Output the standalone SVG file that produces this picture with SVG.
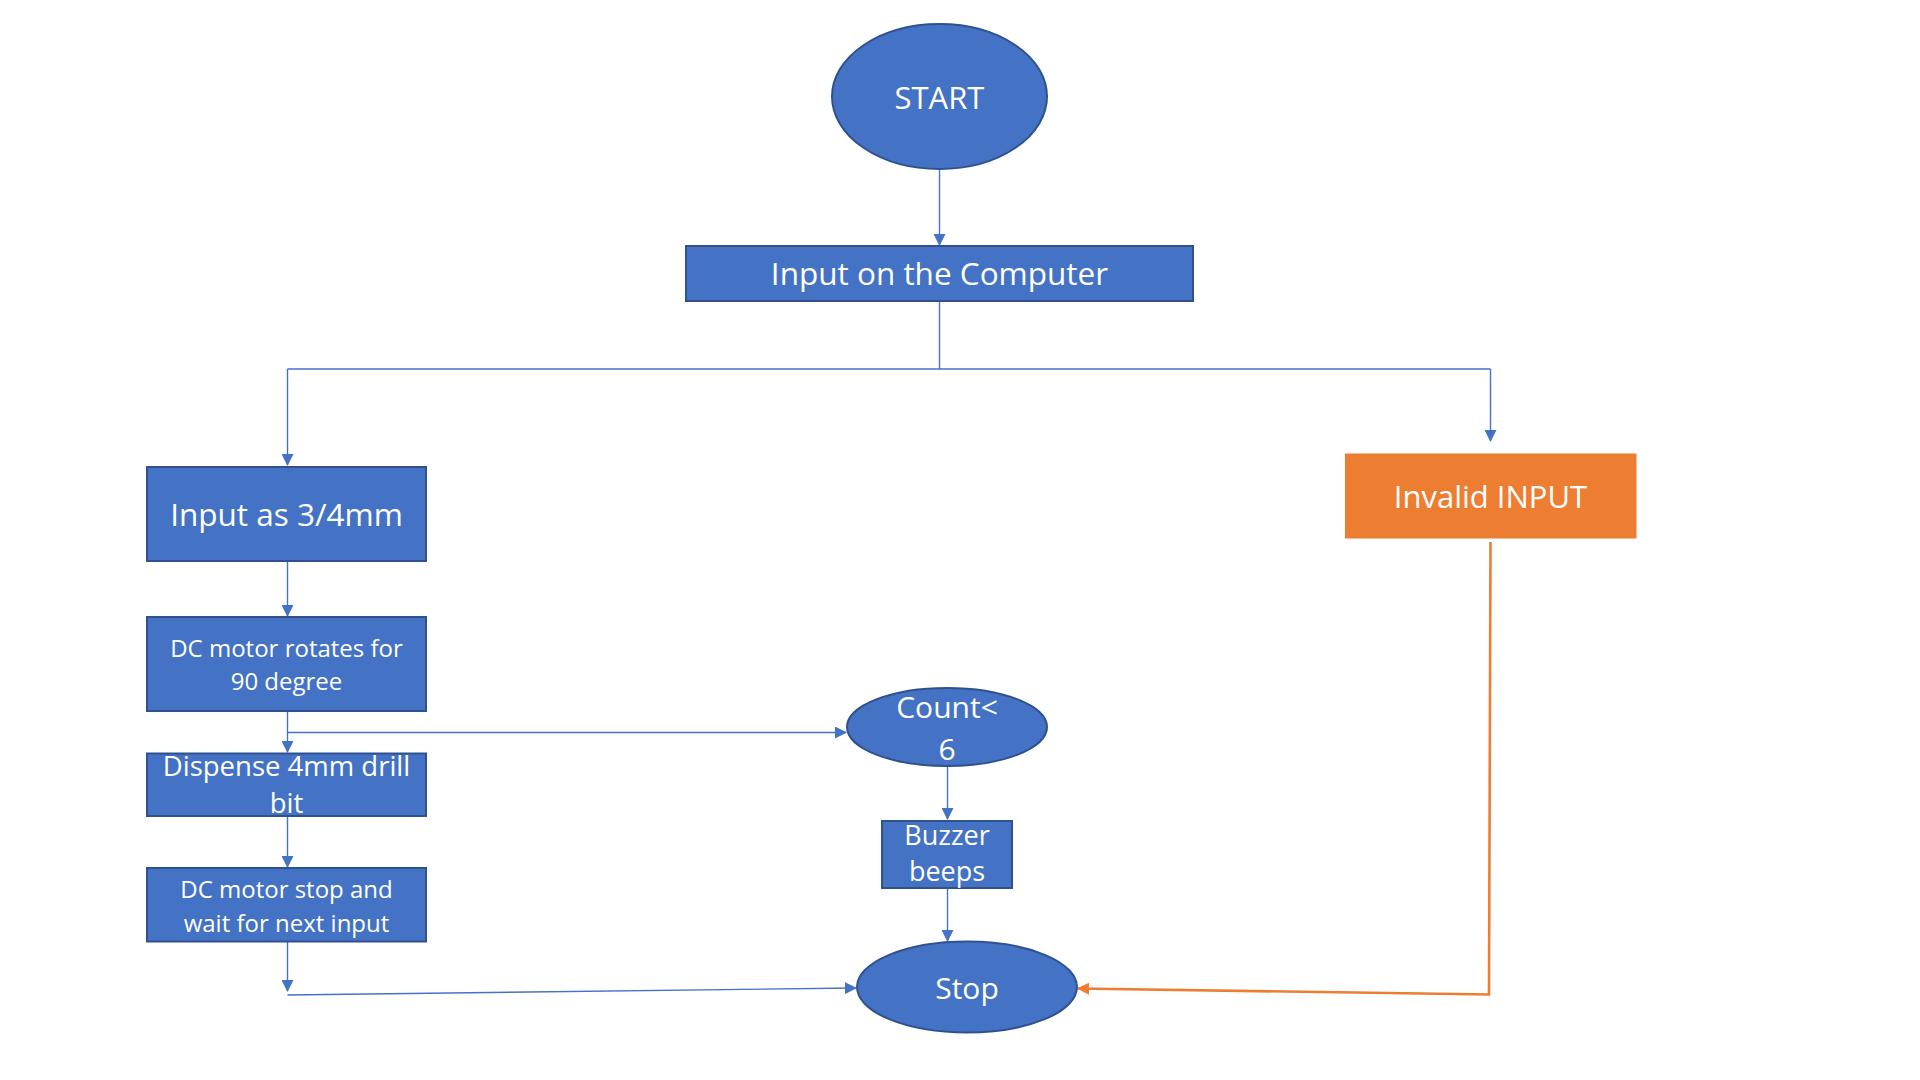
<svg xmlns="http://www.w3.org/2000/svg" width="1920" height="1080" viewBox="0 0 1920 1080">
<defs>
<style>
.n{fill:#4472C4;stroke:#2F528F;stroke-width:2}
.o{fill:#ED7D31}
.t{fill:#fff;font-family:"Open Sans","Noto Sans","DejaVu Sans",sans-serif;text-anchor:middle}
.c{fill:none;stroke:#4472C4;stroke-width:1.4}
.co{fill:none;stroke:#ED7D31;stroke-width:2.6}
</style>
<marker id="ab" markerUnits="userSpaceOnUse" markerWidth="12" markerHeight="12" viewBox="0 0 12 12" refX="11" refY="6" orient="auto">
<path d="M0,0 L12,6 L0,12 z" fill="#4472C4"/>
</marker>
<marker id="ao" markerUnits="userSpaceOnUse" markerWidth="12" markerHeight="12" viewBox="0 0 12 12" refX="11" refY="6" orient="auto">
<path d="M0,0 L12,6 L0,12 z" fill="#ED7D31"/>
</marker>
</defs>
<rect width="1920" height="1080" fill="#fff"/>
<g id="connectors">
<path class="c" d="M939.5,169 V245" marker-end="url(#ab)"/>
<path class="c" d="M939.5,301 V369"/>
<path class="c" d="M287.5,369 H1490.5"/>
<path class="c" d="M287.5,369 V465" marker-end="url(#ab)"/>
<path class="c" d="M1490.5,369 V441" marker-end="url(#ab)"/>
<path class="c" d="M287.5,561 V616" marker-end="url(#ab)"/>
<path class="c" d="M287.5,711 V752" marker-end="url(#ab)"/>
<path class="c" d="M287.5,732.5 H846" marker-end="url(#ab)"/>
<path class="c" d="M287.5,816 V867" marker-end="url(#ab)"/>
<path class="c" d="M287.5,942 V991" marker-end="url(#ab)"/>
<path class="c" d="M287.5,995 L856,988" marker-end="url(#ab)"/>
<path class="c" d="M947.5,766 V819" marker-end="url(#ab)"/>
<path class="c" d="M947.5,889 V941" marker-end="url(#ab)"/>
<path class="co" d="M1490.5,542 L1489,994.5 L1078,988.5" marker-end="url(#ao)"/>
</g>
<g id="start">
<ellipse class="n" cx="939.5" cy="96.5" rx="107.5" ry="72.5"/>
<text class="t" x="939.5" y="109" font-size="31">START</text>
</g>
<g id="input-computer">
<rect class="n" x="686" y="246" width="507" height="55"/>
<text class="t" x="939.5" y="285" font-size="31.5">Input on the Computer</text>
</g>
<g id="input-34mm">
<rect class="n" x="147" y="467" width="279" height="94"/>
<text class="t" x="286.5" y="525.5" font-size="31.5">Input as 3/4mm</text>
</g>
<g id="invalid-input">
<rect class="o" x="1345" y="453.5" width="291.5" height="85"/>
<text class="t" x="1490.5" y="507.5" font-size="31">Invalid INPUT</text>
</g>
<g id="dc-rotates">
<rect class="n" x="147" y="617" width="279" height="94"/>
<text class="t" x="286.5" y="657" font-size="24">DC motor rotates for</text>
<text class="t" x="286.5" y="690" font-size="24">90 degree</text>
</g>
<g id="dispense">
<rect class="n" x="147" y="753.5" width="279" height="62.5"/>
<text class="t" x="286.5" y="776" font-size="27.5">Dispense 4mm drill</text>
<text class="t" x="286.5" y="813" font-size="27.5">bit</text>
</g>
<g id="dc-stop">
<rect class="n" x="147" y="868" width="279" height="73.5"/>
<text class="t" x="286.5" y="898" font-size="24">DC motor stop and</text>
<text class="t" x="286.5" y="932" font-size="24">wait for next input</text>
</g>
<g id="count">
<ellipse class="n" cx="947" cy="727" rx="100" ry="39"/>
<text class="t" x="947" y="718" font-size="30">Count&lt;</text>
<text class="t" x="947" y="760" font-size="30">6</text>
</g>
<g id="buzzer">
<rect class="n" x="882" y="821" width="130" height="67"/>
<text class="t" x="947" y="845" font-size="27">Buzzer</text>
<text class="t" x="947" y="881" font-size="27">beeps</text>
</g>
<g id="stop">
<ellipse class="n" cx="967" cy="987" rx="110" ry="45.5"/>
<text class="t" x="967" y="999" font-size="30">Stop</text>
</g>
</svg>
